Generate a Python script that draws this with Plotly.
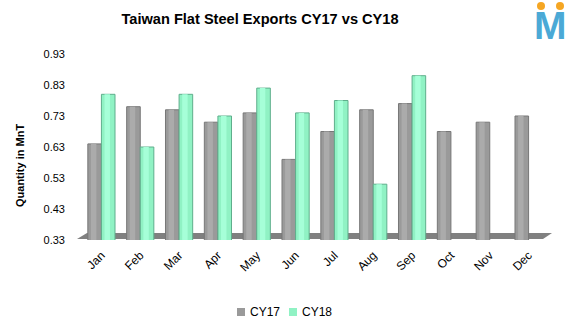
import plotly.graph_objects as go

months = ["Jan", "Feb", "Mar", "Apr", "May", "Jun", "Jul", "Aug", "Sep", "Oct", "Nov", "Dec"]
cy17 = [0.64, 0.76, 0.75, 0.71, 0.74, 0.59, 0.68, 0.75, 0.77, 0.68, 0.71, 0.73]
cy18 = [0.80, 0.63, 0.80, 0.73, 0.82, 0.74, 0.78, 0.51, 0.86, None, None, None]
y_ticks = [0.33, 0.43, 0.53, 0.63, 0.73, 0.83, 0.93]
series_names = ["CY17", "CY18"]
series_colors = ["#9a9a9a", "#90f2c4"]

L, R, T, B = 82, 23, 54, 90
W, H = 571, 330
pw, ph = W - L - R, H - T - B

def px(x):
    return (x - L) / pw

def py(y):
    return (H - B - y) / ph

fig = go.Figure()
# main bars
fig.add_trace(go.Bar(x=months, y=cy17, name=series_names[0],
                     width=0.35, offset=-0.35,
                     marker=dict(color=series_colors[0], line=dict(color="#777777", width=1))))
fig.add_trace(go.Bar(x=months, y=cy18, name=series_names[1],
                     width=0.35, offset=0.0,
                     marker=dict(color=series_colors[1], line=dict(color="#5fae8c", width=1))))
# highlights for cylinder look
fig.add_trace(go.Bar(x=months, y=cy17, hoverinfo="skip",
                     width=0.14, offset=-0.27,
                     marker=dict(color="#ababab", line=dict(width=0))))
fig.add_trace(go.Bar(x=months, y=cy18, hoverinfo="skip",
                     width=0.14, offset=0.08,
                     marker=dict(color="#a6ffd8", line=dict(width=0))))

# floor
floor = (f"M {px(77)},{py(239)} L {px(87)},{py(233)} L {px(552)},{py(233)} "
         f"L {px(543)},{py(239)} Z")
shapes = [dict(type="path", xref="paper", yref="paper", path=floor,
               fillcolor="#808080", line=dict(width=0), layer="below")]
# logo dots
for cx in (541, 560):
    shapes.append(dict(type="circle", xref="paper", yref="paper",
                       x0=px(cx - 4), x1=px(cx + 4), y0=py(10), y1=py(2),
                       fillcolor="#F5A623", line=dict(width=0)))

annotations = [
    dict(text="<b>Quantity in MnT</b>", xref="paper", yref="paper",
         x=px(20), y=py(166), textangle=-90, showarrow=False,
         font=dict(size=11, color="#000"), xanchor="center", yanchor="middle"),
    dict(text="<b>M</b>", xref="paper", yref="paper",
         x=px(550), y=py(26), showarrow=False,
         font=dict(size=39, color="#4BA9D6", family="Liberation Sans, Arial"),
         xanchor="center", yanchor="middle"),
]

# legend (compact, like the original)
leg_y = 312
for sx, name, col in zip((237, 289), series_names, series_colors):
    shapes.append(dict(type="rect", xref="paper", yref="paper",
                       x0=px(sx), x1=px(sx + 8), y0=py(leg_y + 4), y1=py(leg_y - 4),
                       fillcolor=col, line=dict(width=0)))
    annotations.append(dict(text=name, xref="paper", yref="paper",
                            x=px(sx + 11), y=py(leg_y), showarrow=False,
                            xanchor="left", yanchor="middle",
                            font=dict(size=12, color="#000")))

fig.update_layout(
    width=W, height=H,
    margin=dict(l=L, r=R, t=T, b=B),
    paper_bgcolor="white", plot_bgcolor="white",
    barmode="overlay",
    showlegend=False,
    font=dict(family="Liberation Sans, Arial, sans-serif", size=11, color="#000"),
    title=dict(text="<b>Taiwan Flat Steel Exports CY17 vs CY18</b>",
               x=260 / W, xref="container", xanchor="center",
               y=1 - 19 / H, yref="container", yanchor="middle",
               font=dict(size=14.6, color="#000")),
    xaxis=dict(showgrid=False, showline=False, zeroline=False, tickangle=-45,
               ticks="", tickfont=dict(size=12), ticklabelstandoff=5),
    yaxis=dict(range=[0.33, 0.93], tickvals=y_ticks,
               ticktext=[f"{v:.2f}" for v in y_ticks],
               showgrid=False, showline=False, zeroline=False, ticks="",
               ticklabelstandoff=16, tickfont=dict(size=11)),
    shapes=shapes,
    annotations=annotations,
)

fig.write_html("out.html")
